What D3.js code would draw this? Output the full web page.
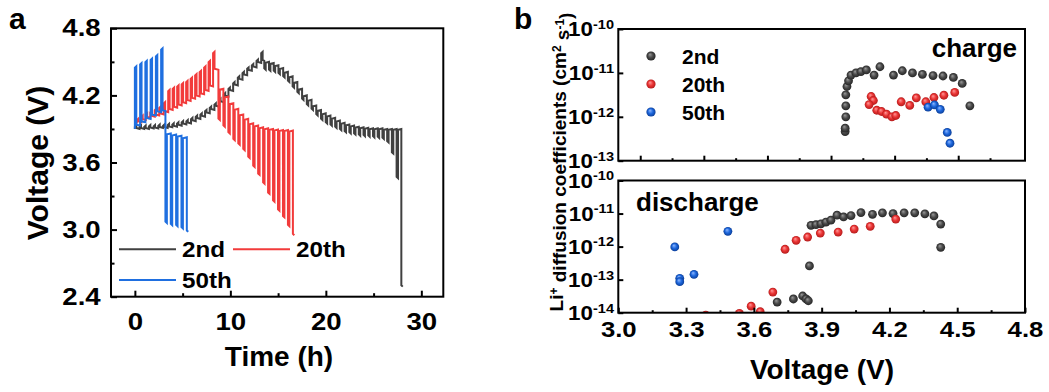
<!DOCTYPE html>
<html>
<head>
<meta charset="utf-8">
<script src="https://cdn.jsdelivr.net/npm/d3@7"></script>
<style>
  body { margin: 0; background: #fff; }
  text { font-family: "Liberation Sans", Arial, sans-serif; font-weight: bold; fill: #000; }
</style>
</head>
<body>
<svg id="fig" width="1049" height="392"></svg>
<script>
// ---------- panel a : GITT voltage profiles (time in h, voltage in V) ----------
const seriesNames = ['2nd', '20th', '50th'];
const seriesColors = ['#404040', '#f23b3b', '#1f6fe0'];

// 2nd cycle
const c2ChgStart = 0, c2ChgPeriod = 0.49;
const c2ChgTop  = [3.93,3.93,3.93,3.935,3.935,3.94,3.94,3.945,3.95,3.96,3.97,3.98,4.00,4.02,4.04,4.07,4.10,4.13,4.17,4.22,4.27,4.32,4.37,4.41,4.45,4.48,4.52,4.59];
const c2ChgRest = [3.90,3.90,3.90,3.90,3.905,3.905,3.91,3.91,3.915,3.92,3.93,3.94,3.95,3.97,3.99,4.01,4.04,4.07,4.10,4.14,4.19,4.24,4.29,4.34,4.38,4.42,4.45,4.49,4.51];
const c2DisStart = 13.55, c2DisPeriod = 0.495;
const c2DisRest = [4.51,4.50,4.49,4.47,4.445,4.41,4.37,4.32,4.26,4.20,4.16,4.11,4.07,4.04,4.02,4.00,3.975,3.955,3.94,3.93,3.92,3.915,3.91,3.905,3.905,3.905,3.90,3.90,3.90,3.90];
const c2DisLow  = [4.43,4.42,4.41,4.39,4.36,4.32,4.27,4.22,4.16,4.11,4.07,4.02,3.98,3.95,3.93,3.91,3.89,3.87,3.86,3.85,3.84,3.835,3.83,3.825,3.82,3.81,3.78,3.68,3.46,2.49];

// 20th cycle
const c20ChgStart = 0.2, c20ChgPeriod = 0.47;
const c20ChgTop  = [3.99,4.02,4.04,4.06,4.08,4.10,4.14,4.25,4.27,4.29,4.31,4.33,4.36,4.39,4.42,4.46,4.51,4.59];
const c20ChgRest = [3.95,3.96,3.98,4.00,4.01,4.02,4.03,4.05,4.07,4.09,4.11,4.13,4.15,4.17,4.19,4.21,4.24,4.28,4.43];
const c20DisStart = 8.75, c20DisPeriod = 0.52;
const c20DisRest = [4.43,4.26,4.19,4.13,4.08,4.03,3.99,3.95,3.93,3.915,3.905,3.90,3.895,3.89,3.89,3.885];
const c20DisLow  = [3.98,3.92,3.86,3.80,3.76,3.71,3.64,3.56,3.49,3.41,3.32,3.25,3.17,3.11,3.03,2.95];

// 50th cycle
const c50ChgStart = 0, c50ChgPeriod = 0.55;
const c50ChgTop  = [4.46,4.49,4.51,4.53,4.56,4.62];
const c50ChgRest = [3.90,3.93,3.96,3.99,4.02,4.05,4.06];
const c50DisStart = 3.2, c50DisPeriod = 0.56;
const c50DisRest = [4.06,3.86,3.85,3.84,3.825];
const c50DisLow  = [3.06,3.04,3.03,3.01,2.98];

const aXTicks = [0, 10, 20, 30], aXMinor = [5, 15, 25];
const aYTicks = [2.4, 3.0, 3.6, 4.2, 4.8], aYMinor = [2.7, 3.3, 3.9, 4.5];

// ---------- panel b : Li+ diffusion coefficients (voltage V, D cm2/s) ----------
const chg2V = [4.004,4.004,4.007,4.007,4.007,4.012,4.019,4.03,4.052,4.074,4.098,4.132,4.158,4.218,4.257,4.302,4.346,4.393,4.437,4.483,4.522,4.556];
const chg2D = [4.6e-13,5.5e-13,1.0e-12,1.78e-12,3.16e-12,4.9e-12,6.6e-12,8.9e-12,1.0e-11,1.07e-11,1.17e-11,8.9e-12,1.38e-11,8.9e-12,1.12e-11,1.0e-11,9.3e-12,8.7e-12,8.5e-12,7.9e-12,5.75e-12,1.78e-12];
const chg20V = [4.119,4.129,4.11,4.144,4.165,4.187,4.211,4.228,4.252,4.29,4.319,4.361,4.397,4.441,4.489];
const chg20D = [2.9e-12,2.35e-12,1.9e-12,1.41e-12,1.32e-12,1.15e-12,1.0e-12,1.07e-12,2.2e-12,1.82e-12,2.7e-12,2.2e-12,2.75e-12,3.1e-12,3.6e-12];
const chg50V = [4.371,4.399,4.425,4.456,4.468];
const chg50D = [1.66e-12,1.86e-12,1.48e-12,4.4e-13,2.5e-13];

const dis2V = [3.703,3.775,3.816,3.831,3.841,3.846,3.853,3.875,3.897,3.919,3.941,3.968,3.997,4.03,4.074,4.125,4.169,4.216,4.265,4.312,4.357,4.397,4.427,4.427];
const dis2D = [2.1e-14,2.6e-14,3.2e-14,2.6e-14,2.3e-14,2.6e-13,4.4e-12,4.6e-12,4.9e-12,5.5e-12,6.3e-12,8.9e-12,7.9e-12,8.7e-12,1.07e-11,9.5e-12,1.05e-11,1.0e-11,1.05e-11,1.05e-11,9.8e-12,8.5e-12,4.8e-12,9.5e-13];
const dis20V = [3.387,3.536,3.588,3.628,3.684,3.738,3.787,3.838,3.894,3.973,4.044,4.115,4.228];
const dis20D = [8.5e-15,9.5e-15,1.58e-14,1.07e-14,4.2e-14,8.3e-13,1.55e-12,1.95e-12,2.57e-12,2.75e-12,3.4e-12,4.1e-12,6.8e-12];
const dis50V = [3.25,3.272,3.272,3.335,3.485];
const dis50D = [9.8e-13,1.1e-13,8.7e-14,1.45e-13,2.9e-12];

const bXTicks = [3.0, 3.3, 3.6, 3.9, 4.2, 4.5, 4.8];
const bXMinor = [3.15, 3.45, 3.75, 4.05, 4.35, 4.65];
const bTopDecades = [1e-13, 1e-12, 1e-11, 1e-10];
const bBotDecades = [1e-14, 1e-13, 1e-12, 1e-11, 1e-10];

const svg = d3.select('#fig');
svg.append('rect').attr('width', 1049).attr('height', 392).attr('fill', '#fff');

function label(g, x, y, str, size, anchor, sx, rot) {
  let tr = `translate(${x},${y}) scale(${sx || 1},1)`;
  if (rot) tr += ` rotate(${rot})`;
  return g.append('text').attr('transform', tr).attr('text-anchor', anchor || 'start')
    .style('font-size', size + 'px').text(str);
}

// GITT pulse sequence -> polyline vertices
function gittPoints(start, period, rest, ext, dir) {
  const pts = [];
  ext.forEach((v, i) => {
    const t = start + i * period;
    pts.push([t, rest[i]]);
    pts.push([t, v - dir * 0.012]);
    pts.push([t + 0.15, v]);
    if (rest[i + 1] !== undefined) pts.push([t + 0.15, rest[i + 1] + dir * 0.008]);
  });
  return pts;
}

// ================= panel a =================
const ax = d3.scaleLinear().domain([-2.5, 32.3]).range([111, 443.3]);
const ay = d3.scaleLinear().domain([2.4, 4.8]).range([296.7, 28.3]);
const ga = svg.append('g');

const curves = [
  gittPoints(c2ChgStart, c2ChgPeriod, c2ChgRest, c2ChgTop, 1).concat(gittPoints(c2DisStart, c2DisPeriod, c2DisRest, c2DisLow, -1)),
  gittPoints(c20ChgStart, c20ChgPeriod, c20ChgRest, c20ChgTop, 1).concat(gittPoints(c20DisStart, c20DisPeriod, c20DisRest, c20DisLow, -1)),
  gittPoints(c50ChgStart, c50ChgPeriod, c50ChgRest, c50ChgTop, 1).concat(gittPoints(c50DisStart, c50DisPeriod, c50DisRest, c50DisLow, -1))
];
const lineA = d3.line().x(d => ax(d[0])).y(d => ay(d[1]));
curves.forEach((pts, i) => {
  ga.append('path').attr('d', lineA(pts)).attr('fill', 'none')
    .attr('stroke', seriesColors[i]).attr('stroke-width', 2).attr('stroke-linejoin', 'miter');
});

function styleAxis(sel) {
  sel.select('.domain').remove();
  sel.selectAll('line').attr('stroke', '#000').attr('stroke-width', 2);
}
// ticks
ga.append('g').attr('transform', `translate(0,${ay.range()[0]})`)
  .call(d3.axisBottom(ax).tickValues(aXTicks).tickSizeInner(-6).tickSizeOuter(0).tickPadding(16).tickFormat(d3.format('d')))
  .call(styleAxis)
  .selectAll('text').style('font-size', '24px').attr('transform', 'scale(1.15,1)');
ga.append('g').attr('transform', `translate(0,${ay.range()[0]})`)
  .call(d3.axisBottom(ax).tickValues(aXMinor).tickSizeInner(-3.5).tickSizeOuter(0).tickFormat(''))
  .call(styleAxis);
ga.append('g').attr('transform', `translate(${ax.range()[0]},0)`)
  .call(d3.axisLeft(ay).tickValues(aYTicks).tickSizeInner(-6).tickSizeOuter(0).tickPadding(9).tickFormat(d3.format('.1f')))
  .call(styleAxis)
  .selectAll('text').style('font-size', '24px').attr('transform', 'scale(1.15,1)');
ga.append('g').attr('transform', `translate(${ax.range()[0]},0)`)
  .call(d3.axisLeft(ay).tickValues(aYMinor).tickSizeInner(-3.5).tickSizeOuter(0).tickFormat(''))
  .call(styleAxis);

ga.append('rect').attr('x', ax.range()[0]).attr('y', ay.range()[1])
  .attr('width', ax.range()[1] - ax.range()[0]).attr('height', ay.range()[0] - ay.range()[1])
  .attr('fill', 'none').attr('stroke', '#000').attr('stroke-width', 2);

// legend a
const legA = [[119, 249.3], [233, 249.3], [119, 280]];
seriesNames.forEach((n, i) => {
  const [x, y] = legA[i];
  ga.append('line').attr('x1', x).attr('x2', x + 57).attr('y1', y).attr('y2', y)
    .attr('stroke', seriesColors[i]).attr('stroke-width', 2);
  label(ga, x + 63, y + 8, n, 22, 'start', 1.1);
});

label(ga, 279, 366, 'Time (h)', 28, 'middle');
label(ga, 48, 163, 'Voltage (V)', 30, 'middle', 1, -90);
label(ga, 9, 29, 'a', 30, 'start');

// ================= panel b =================
const bx = d3.scaleLinear().domain([3.0, 4.8]).range([618.3, 1025]);
const byTop = d3.scaleLog().domain([1e-13, 1e-10]).range([160.7, 29]);
const byBot = d3.scaleLog().domain([1e-14, 1e-10]).range([312.7, 180.5]);
const gb = svg.append('g');

const defs = svg.append('defs');
const dotShades = [['#9a9a9a', '#4a4a4a', '#262626'], ['#ff9a9a', '#ea3434', '#b51d1d'], ['#8fb8ff', '#1c66dc', '#0c3f99']];
dotShades.forEach((s, i) => {
  const rg = defs.append('radialGradient').attr('id', 'dot' + i).attr('cx', '50%').attr('cy', '50%').attr('r', '50%').attr('fx', '38%').attr('fy', '32%');
  rg.append('stop').attr('offset', '0%').attr('stop-color', s[0]);
  rg.append('stop').attr('offset', '55%').attr('stop-color', s[1]);
  rg.append('stop').attr('offset', '100%').attr('stop-color', s[2]);
});
defs.append('clipPath').attr('id', 'clipTop').append('rect')
  .attr('x', bx.range()[0]).attr('y', byTop.range()[1]).attr('width', bx.range()[1] - bx.range()[0]).attr('height', byTop.range()[0] - byTop.range()[1]);
defs.append('clipPath').attr('id', 'clipBot').append('rect')
  .attr('x', bx.range()[0]).attr('y', byBot.range()[1]).attr('width', bx.range()[1] - bx.range()[0]).attr('height', byBot.range()[0] - byBot.range()[1]);

function dots(g, vs, ds, yScale, ci) {
  g.selectAll(null).data(vs.map((v, i) => [v, ds[i]])).enter().append('circle')
    .attr('cx', d => bx(d[0])).attr('cy', d => yScale(d[1])).attr('r', 4.4)
    .attr('fill', `url(#dot${ci})`);
}
const gTop = gb.append('g').attr('clip-path', 'url(#clipTop)');
dots(gTop, chg2V, chg2D, byTop, 0);
dots(gTop, chg20V, chg20D, byTop, 1);
dots(gTop, chg50V, chg50D, byTop, 2);
const gBot = gb.append('g').attr('clip-path', 'url(#clipBot)');
dots(gBot, dis2V, dis2D, byBot, 0);
dots(gBot, dis20V, dis20D, byBot, 1);
dots(gBot, dis50V, dis50D, byBot, 2);

// top panel bottom ticks (own spacing in the original figure)
const topTick = d3.scaleLinear().domain([-0.69, 12.1]).range(bx.range());
const topTickIdx = d3.range(0, 12);
gb.append('g').attr('transform', `translate(0,${byTop.range()[0]})`)
  .call(d3.axisBottom(topTick).tickValues(topTickIdx.filter(i => i % 2 === 0)).tickSizeInner(-5).tickSizeOuter(0).tickFormat(''))
  .call(styleAxis);
gb.append('g').attr('transform', `translate(0,${byTop.range()[0]})`)
  .call(d3.axisBottom(topTick).tickValues(topTickIdx.filter(i => i % 2 === 1)).tickSizeInner(-2.5).tickSizeOuter(0).tickFormat(''))
  .call(styleAxis);
gb.append('g').attr('transform', `translate(${bx.range()[0]},0)`)
  .call(d3.axisLeft(byTop).tickValues(bTopDecades).tickSizeInner(-5).tickSizeOuter(0).tickFormat(''))
  .call(styleAxis);

// bottom panel ticks
gb.append('g').attr('transform', `translate(0,${byBot.range()[0]})`)
  .call(d3.axisBottom(bx).tickValues(bXTicks).tickSizeInner(-5).tickSizeOuter(0).tickPadding(8).tickFormat(d3.format('.1f')))
  .call(styleAxis)
  .selectAll('text').style('font-size', '23px').attr('transform', 'scale(1.12,1)');
gb.append('g').attr('transform', `translate(0,${byBot.range()[0]})`)
  .call(d3.axisBottom(bx).tickValues(bXMinor).tickSizeInner(-2.5).tickSizeOuter(0).tickFormat(''))
  .call(styleAxis);
gb.append('g').attr('transform', `translate(${bx.range()[0]},0)`)
  .call(d3.axisLeft(byBot).tickValues(bBotDecades).tickSizeInner(-5).tickSizeOuter(0).tickFormat(''))
  .call(styleAxis);

// power-of-ten labels
function decadeLabels(decs, yScale) {
  decs.forEach(v => {
    const t = gb.append('text').attr('transform', `translate(614,${yScale(v) + 7}) scale(1.12,1)`)
      .attr('text-anchor', 'end').style('font-size', '20px');
    t.append('tspan').text('10');
    t.append('tspan').attr('dy', '-0.55em').style('font-size', '13px').text(String(Math.round(Math.log10(v))));
  });
}
decadeLabels(bTopDecades, byTop);
decadeLabels(bBotDecades, byBot);

[byTop, byBot].forEach(s => {
  gb.append('rect').attr('x', bx.range()[0]).attr('y', s.range()[1])
    .attr('width', bx.range()[1] - bx.range()[0]).attr('height', s.range()[0] - s.range()[1])
    .attr('fill', 'none').attr('stroke', '#000').attr('stroke-width', 2);
});

// legend b
seriesNames.forEach((n, i) => {
  const y = 56 + i * 28;
  gb.append('circle').attr('cx', 651).attr('cy', y).attr('r', 4.6).attr('fill', `url(#dot${i})`);
  label(gb, 682, y + 8, n, 21, 'start');
});
label(gb, 1017, 57, 'charge', 26, 'end');
label(gb, 636, 211, 'discharge', 26, 'start');

// axis titles b
label(gb, 822, 379, 'Voltage (V)', 28, 'middle');
const yt = gb.append('text').attr('transform', 'translate(563,162) rotate(-90)')
  .attr('text-anchor', 'middle').style('font-size', '19px');
yt.append('tspan').text('Li');
yt.append('tspan').attr('dy', '-0.45em').style('font-size', '12px').text('+');
yt.append('tspan').attr('dy', '0.45em').text(' diffusion coefficients (cm');
yt.append('tspan').attr('dy', '-0.45em').style('font-size', '12px').text('2');
yt.append('tspan').attr('dy', '0.45em').text(' s');
yt.append('tspan').attr('dy', '-0.45em').style('font-size', '12px').text('-1');
yt.append('tspan').attr('dy', '0.45em').text(')');
label(gb, 514, 29, 'b', 30, 'start');
</script>
</body>
</html>
